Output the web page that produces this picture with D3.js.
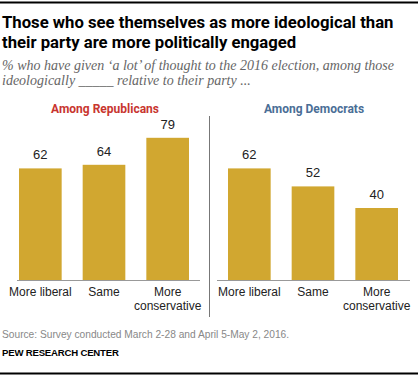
<!DOCTYPE html>
<html>
<head>
<meta charset="utf-8">
<script src="https://cdn.jsdelivr.net/npm/d3@7"></script>
<style>
  body { margin: 0; background: #fff; }
  svg { display: block; }
  .title { font-family: "Roboto", "Liberation Sans", sans-serif; font-weight: 700; font-size: 16.7px; fill: #000; }
  .subtitle { font-family: "Liberation Serif", "DejaVu Serif", serif; font-style: italic; font-size: 14px; fill: #666; }
  .panel-title { font-family: "Roboto", "Liberation Sans", sans-serif; font-weight: 700; font-size: 12px; text-anchor: middle; }
  .value { font-family: "Liberation Sans", Arial, sans-serif; font-size: 13px; fill: #222; text-anchor: middle; }
  .cat { font-family: "Liberation Sans", Arial, sans-serif; font-size: 12px; fill: #222; text-anchor: middle; }
  .source { font-family: "Liberation Sans", Arial, sans-serif; font-size: 10.2px; fill: #888; }
  .brand { font-family: "Liberation Sans", Arial, sans-serif; font-size: 9.6px; font-weight: 700; fill: #000; letter-spacing: -0.2px; }
</style>
</head>
<body>
<svg width="420" height="380"></svg>
<script>
var categories = ["More liberal", "Same", "More conservative"];
var republicans = [62, 64, 79];
var democrats = [62, 52, 40];
var panelTitles = ["Among Republicans", "Among Democrats"];
var panelColors = ["#c8352f", "#4a6e96"];

var svg = d3.select("svg");
var barColor = "#d1a730";

// frame lines
svg.append("line").attr("x1", 0).attr("x2", 418).attr("y1", 2.5).attr("y2", 2.5)
  .attr("stroke", "#000").attr("stroke-width", 2);
svg.append("line").attr("x1", 0).attr("x2", 418).attr("y1", 373.5).attr("y2", 373.5)
  .attr("stroke", "#000").attr("stroke-width", 2);

svg.append("text").attr("class", "title").attr("x", 2).attr("y", 28)
  .text("Those who see themselves as more ideological than");
svg.append("text").attr("class", "title").attr("x", 2).attr("y", 48)
  .text("their party are more politically engaged");
svg.append("text").attr("class", "subtitle").attr("x", 2).attr("y", 70)
  .text("% who have given \u2018a lot\u2019 of thought to the 2016 election, among those");
svg.append("text").attr("class", "subtitle").attr("x", 2).attr("y", 85)
  .text("ideologically _____ relative to their party ...");

var y = d3.scaleLinear().domain([0, 100]).range([280, 100]);

var panels = [
  { title: panelTitles[0], color: panelColors[0], values: republicans, bars: [19, 189], axis: [17, 200] },
  { title: panelTitles[1], color: panelColors[1], values: democrats, bars: [228, 398], axis: [217, 410] }
];

panels.forEach(function (p) {
  var x = d3.scaleBand().domain(categories).range(p.bars).paddingInner(0.33).paddingOuter(0);
  var g = svg.append("g");
  var data = categories.map(function (c, i) { return { cat: c, v: p.values[i] }; });

  g.append("text").attr("class", "panel-title")
    .attr("x", (p.bars[0] + p.bars[1]) / 2 + 1).attr("y", 113)
    .attr("fill", p.color).text(p.title);

  g.selectAll("rect").data(data).enter().append("rect")
    .attr("x", function (d) { return x(d.cat); })
    .attr("y", function (d) { return y(d.v); })
    .attr("width", x.bandwidth())
    .attr("height", function (d) { return y(0) - y(d.v); })
    .attr("fill", barColor);

  g.selectAll(".value").data(data).enter().append("text")
    .attr("class", "value")
    .attr("x", function (d) { return x(d.cat) + x.bandwidth() / 2; })
    .attr("y", function (d) { return y(d.v) - 9; })
    .text(function (d) { return d.v; });

  g.append("line").attr("x1", p.axis[0]).attr("x2", p.axis[1])
    .attr("y1", y(0) + 0.5).attr("y2", y(0) + 0.5)
    .attr("stroke", "#999").attr("stroke-width", 1);

  g.selectAll(".cat").data(data).enter().append("text")
    .attr("class", "cat")
    .attr("x", function (d) { return x(d.cat) + x.bandwidth() / 2; })
    .attr("y", 296)
    .each(function (d) {
      var t = d3.select(this);
      if (d.cat === "More conservative") {
        t.append("tspan").attr("x", t.attr("x")).attr("dy", 0).text("More");
        t.append("tspan").attr("x", t.attr("x")).attr("dy", 13.5).text("conservative");
      } else {
        t.text(d.cat);
      }
    });
});

// divider between panels
svg.append("line").attr("x1", 209.5).attr("x2", 209.5).attr("y1", 116).attr("y2", 317)
  .attr("stroke", "#777").attr("stroke-width", 1);

svg.append("text").attr("class", "source").attr("x", 2).attr("y", 338)
  .text("Source: Survey conducted March 2-28 and April 5-May 2, 2016.");
svg.append("text").attr("class", "brand").attr("x", 2).attr("y", 356)
  .text("PEW RESEARCH CENTER");
</script>
</body>
</html>
